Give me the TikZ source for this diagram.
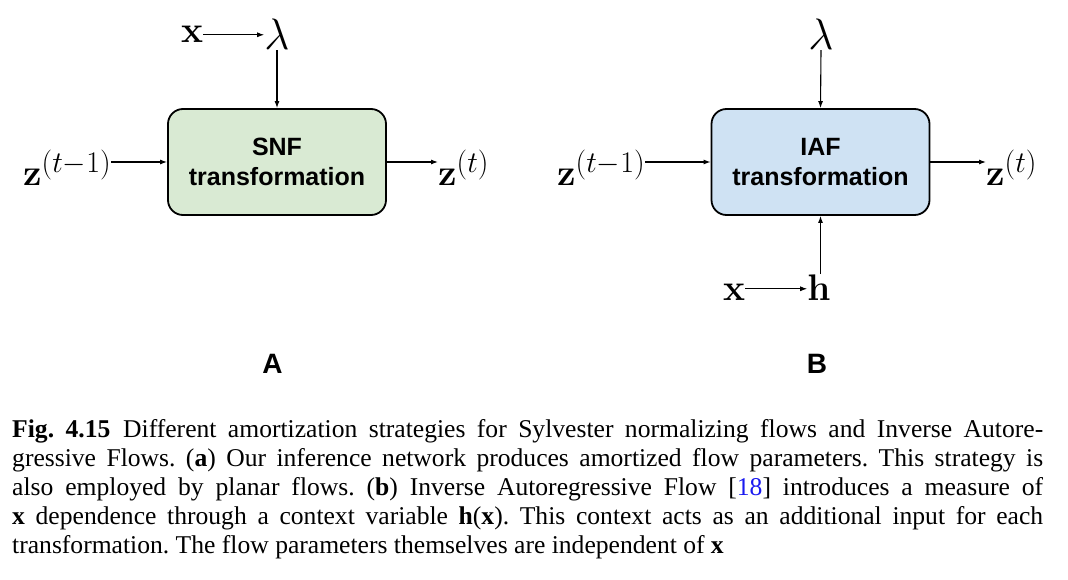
\documentclass[tikz,border=0pt]{standalone}
\usepackage{fix-cm}
\usepackage[no-math]{fontspec}
\setmainfont{Liberation Serif}
\newfontfamily\boxfont{Liberation Sans}
\usepackage{tikz}
\usepackage{xcolor}
\usetikzlibrary{math,arrows.meta}

\DeclareMathSizes{37}{37}{30}{22}

\definecolor{snfgreen}{HTML}{D9EAD3}
\definecolor{iafblue}{HTML}{CFE2F3}
\definecolor{refblue}{HTML}{1A1AF0}

\tikzset{
  trans/.style={draw, line width=1.8pt, rounded corners=15pt,
    minimum width=\wb, minimum height=\hb, inner sep=0pt, align=center,
    font=\boxfont\bfseries\fontsize{25}{30}\selectfont},
  var/.style={inner sep=0pt, font=\fontsize{37}{40}\selectfont},
  panel/.style={inner sep=0pt, font=\boxfont\bfseries\fontsize{28}{30}\selectfont},
  arr/.style={-{Latex[length=7pt,width=5pt]}, line width=1.1pt}
}

\begin{document}
\begin{tikzpicture}[x=1pt,y=-1pt]

\tikzmath{
\wb = 218;
\hb = 106;
}

\useasboundingbox (0,0) rectangle (1068,580);

% A: SNF
\node[trans, fill=snfgreen] (boxA) at (277,162) {SNF\\transformation};
\node[var, anchor=base west] (xA) at (181,43) {$\mathbf{x}$};
\node[var, anchor=base, font=\fontsize{44}{48}\selectfont] (lamA) at (277,50) {$\lambda$};
\node[var, anchor=base west] (zinA) at (23,186) {$\mathbf{z}^{(t-1)}$};
\node[var, anchor=base west] (zoutA) at (438,186) {$\mathbf{z}^{(t)}$};

\draw[arr] (xA.east) -- (xA.east -| lamA.west);
\draw[arr] (lamA.south) -- (boxA.north);
\draw[arr] (zinA.east |- boxA.west) -- (boxA.west);
\draw[arr] (boxA.east) -- (zoutA.west |- boxA.east);

% B: IAF
\node[trans, fill=iafblue] (boxB) at (820.5,162) {IAF\\transformation};
\node[var, anchor=base, font=\fontsize{44}{48}\selectfont] (lamB) at (821,50) {$\lambda$};
\node[var, anchor=base west] (zinB) at (557,186) {$\mathbf{z}^{(t-1)}$};
\node[var, anchor=base west] (zoutB) at (986,186) {$\mathbf{z}^{(t)}$};
\node[var, anchor=base west] (xB) at (723,300) {$\mathbf{x}$};
\node[var, anchor=base] (hB) at (819,300) {$\mathbf{h}$};

\draw[arr] (lamB.south) -- (boxB.north);
\draw[arr] (zinB.east |- boxB.west) -- (boxB.west);
\draw[arr] (boxB.east) -- (zoutB.west |- boxB.east);
\draw[arr] (boxB.south |- hB.north) -- (boxB.south);
\draw[arr] ([yshift=3pt]xB.east) -- ([yshift=3pt]xB.east -| hB.west);

\node[panel, anchor=base] (labA) at (272.5,373) {A};
\node[panel, anchor=base] (labB) at (817,373) {B};

% caption
\node[anchor=base west, inner sep=0pt, text width=1031pt, align=justify,
  font=\fontsize{25.6}{29.2}\selectfont\frenchspacing] (cap) at (12,437)
  {\textbf{Fig. 4.15}\hspace{0.5em}Different amortization strategies for Sylvester normalizing flows and Inverse Autore-\linebreak
  gressive Flows. (\textbf{a}) Our inference network produces amortized flow parameters. This strategy is\linebreak
  also employed by planar flows. (\textbf{b}) Inverse Autoregressive Flow [\textcolor{refblue}{18}] introduces a measure of\linebreak
  \textbf{x} dependence through a context variable \textbf{h}(\textbf{x}). This context acts as an additional input for each\linebreak
  transformation. The flow parameters themselves are independent of \textbf{x}};

\end{tikzpicture}
\end{document}
